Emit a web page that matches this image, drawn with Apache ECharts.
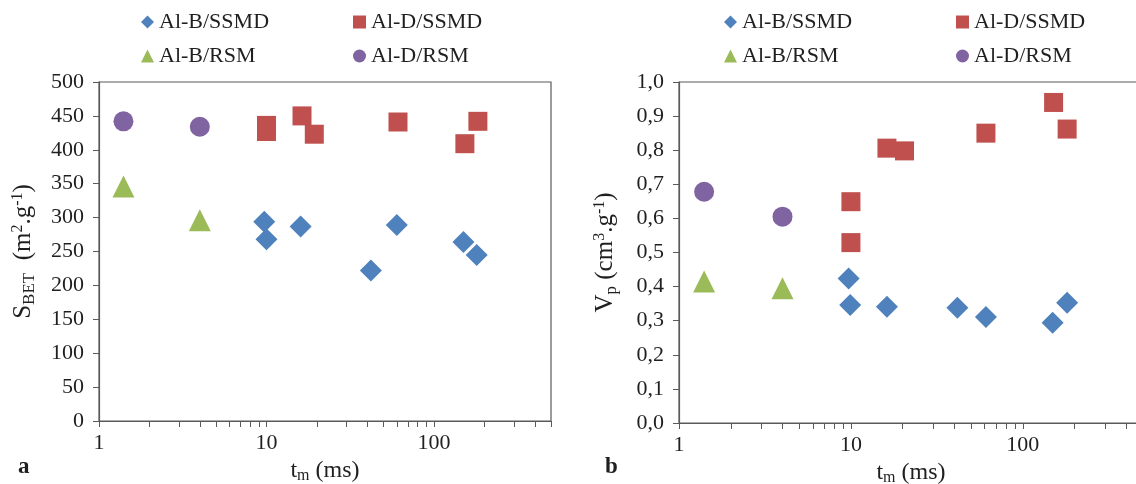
<!DOCTYPE html>
<html><head><meta charset="utf-8">
<script src="https://cdn.jsdelivr.net/npm/echarts@6/dist/echarts.min.js"></script>
<style>html,body{margin:0;padding:0;background:#fff}#c{width:1136px;height:484px}</style>
</head><body><div id="c"></div>
<script>
// ---- data ----
const seriesNames = ['Al-B/SSMD', 'Al-D/SSMD', 'Al-B/RSM', 'Al-D/RSM'];
// panel a : S_BET (m2/g) vs t_m (ms)
const a_B_SSMD_tm = [9.7, 10, 16, 42, 60, 150, 180];
const a_B_SSMD_S  = [294, 268, 287, 222, 289, 264, 245];
const a_D_SSMD_tm = [10, 10, 16.3, 19.3, 61, 153, 183];
const a_D_SSMD_S  = [436, 427, 450, 423, 441, 409, 442];
const a_B_RSM_tm  = [1.4, 4];
const a_B_RSM_S   = [346, 296];
const a_D_RSM_tm  = [1.4, 4];
const a_D_RSM_S   = [442, 434];
// panel b : V_p (cm3/g) vs t_m (ms)
const b_B_SSMD_tm = [9.7, 9.9, 16.2, 41.6, 61, 149, 181];
const b_B_SSMD_V  = [0.424, 0.346, 0.341, 0.338, 0.311, 0.294, 0.353];
const b_D_SSMD_tm = [10, 10, 16.2, 20.5, 61, 151, 181];
const b_D_SSMD_V  = [0.649, 0.529, 0.806, 0.798, 0.850, 0.940, 0.862];
const b_B_RSM_tm  = [1.4, 4];
const b_B_RSM_V   = [0.415, 0.395];
const b_D_RSM_tm  = [1.4, 4];
const b_D_RSM_V   = [0.678, 0.605];
// axes
const xTickValues  = [1,2,3,4,5,6,7,8,9,10,20,30,40,50,60,70,80,90,100,200,300,400,500];
const xLabelValues = [1, 10, 100];
const xMin = 1, xMax = 500;
const yA = {min: 0, max: 500, interval: 50};
const yB = {min: 0, max: 1, interval: 0.1};

// ---- styling ----
const FONT = 'Liberation Serif';
const TXT = '#1f1f1f';
const AX = '#5a5a5a';
const colors = ['#4F81BD', '#C0504D', '#9BBB59', '#8064A2'];
const symbols = ['diamond', 'rect', 'triangle', 'circle'];
const sizes = [22, 19, 22, 20];

const pts = (xs, ys) => xs.map((x, i) => [x, ys[i]]);
const panelData = [
  [pts(a_B_SSMD_tm, a_B_SSMD_S), pts(a_D_SSMD_tm, a_D_SSMD_S), pts(a_B_RSM_tm, a_B_RSM_S), pts(a_D_RSM_tm, a_D_RSM_S)],
  [pts(b_B_SSMD_tm, b_B_SSMD_V), pts(b_D_SSMD_tm, b_D_SSMD_V), pts(b_B_RSM_tm, b_B_RSM_V), pts(b_D_RSM_tm, b_D_RSM_V)]
];

const rich = {
  t: {fontFamily: FONT, fontSize: 25, color: TXT},
  sub: {fontFamily: FONT, fontSize: 17, color: TXT, padding: [12, 0, 0, 0]},
  sup: {fontFamily: FONT, fontSize: 16, color: TXT, padding: [0, 0, 11, 0]}
};
const richX = {
  t: {fontFamily: FONT, fontSize: 24, color: TXT},
  sub: {fontFamily: FONT, fontSize: 16, color: TXT, padding: [10, 0, 0, 0]}
};

function xAxis(gi) {
  return {
    type: 'log', gridIndex: gi, min: xMin, max: xMax, logBase: 10,
    axisLine: {show: true, lineStyle: {color: AX, width: 1.2}},
    axisTick: {show: true, length: 6, inside: false, customValues: xTickValues, lineStyle: {color: AX}},
    axisLabel: {customValues: xLabelValues, fontFamily: FONT, fontSize: 22, color: TXT, margin: 11},
    splitLine: {show: false}, minorTick: {show: false}, minorSplitLine: {show: false},
    name: '{t|t}{sub|m}{t| (ms)}', nameLocation: 'middle', nameGap: 29,
    nameTextStyle: {rich: richX}
  };
}
function yAxis(gi, cfg, fmt, name, gap) {
  return {
    type: 'value', gridIndex: gi, min: cfg.min, max: cfg.max, interval: cfg.interval,
    axisLine: {show: true, lineStyle: {color: AX, width: 1.2}},
    axisTick: {show: true, length: 6, inside: false, lineStyle: {color: AX}},
    axisLabel: {fontFamily: FONT, fontSize: 22, color: TXT, margin: 15, formatter: fmt},
    splitLine: {show: false},
    name: name, nameLocation: 'middle', nameGap: gap, nameRotate: 90,
    nameTextStyle: {rich: rich}
  };
}

const series = [];
panelData.forEach((pd, gi) => {
  pd.forEach((d, si) => {
    series.push({
      type: 'scatter', name: seriesNames[si], xAxisIndex: gi, yAxisIndex: gi,
      data: d, symbol: symbols[si], symbolSize: sizes[si],
      itemStyle: {color: colors[si], opacity: 1}
    });
  });
});

function legend(left, names) {
  return {
    orient: 'vertical', left: left, top: 6, itemGap: 12, itemWidth: 13, itemHeight: 13,
    textStyle: {fontFamily: FONT, fontSize: 22, color: TXT},
    data: names.map(n => ({name: n, icon: symbols[seriesNames.indexOf(n)]}))
  };
}

const option = {
  animation: false,
  backgroundColor: '#ffffff',
  grid: [
    {left: 99, top: 82, right: 585, bottom: 63, outerBoundsMode: 'none', containLabel: false, show: true, borderColor: AX, borderWidth: 1.2, backgroundColor: 'transparent'},
    {left: 679, top: 82, right: -7, bottom: 61, outerBoundsMode: 'none', containLabel: false, show: true, borderColor: AX, borderWidth: 1.2, backgroundColor: 'transparent'}
  ],
  xAxis: [xAxis(0), xAxis(1)],
  yAxis: [
    yAxis(0, yA, v => String(v), '{t|S}{sub|BET}{t|  (m}{sup|2}{t|.g}{sup|-1}{t|)}', 61),
    yAxis(1, yB, v => v.toFixed(1).replace('.', ','), '{t|V}{sub|p}{t| (cm}{sup|3}{t|.g}{sup|-1}{t|)}', 59)
  ],
  legend: [
    legend(136, ['Al-B/SSMD', 'Al-B/RSM']),
    legend(348, ['Al-D/SSMD', 'Al-D/RSM']),
    legend(719, ['Al-B/SSMD', 'Al-B/RSM']),
    legend(951, ['Al-D/SSMD', 'Al-D/RSM'])
  ],
  title: [
    {text: 'a', left: 13, top: 451, textStyle: {fontFamily: FONT, fontSize: 23, fontWeight: 'bold', color: TXT}},
    {text: 'b', left: 600, top: 451, textStyle: {fontFamily: FONT, fontSize: 23, fontWeight: 'bold', color: TXT}}
  ],
  series: series
};
const chart = echarts.init(document.getElementById('c'), null, {renderer: 'canvas'});
chart.setOption(option);
</script>
</body></html>
